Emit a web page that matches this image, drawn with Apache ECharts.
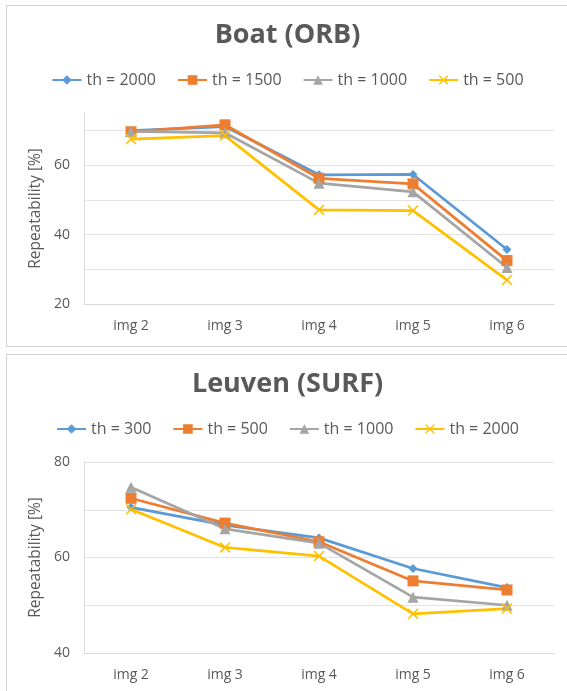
<!DOCTYPE html>
<html>
<head>
<meta charset="utf-8">
<script src="https://cdn.jsdelivr.net/npm/echarts@6/dist/echarts.min.js"></script>
<style>
  body { margin: 0; width: 567px; height: 691px; overflow: hidden; position: relative; background: #fff; }
  .box { position: absolute; left: 6px; width: 561px; height: 340px; border: 1px solid #d4d4d4; background: #fff; }
</style>
</head>
<body>
<div id="boat" class="box" style="top:5px"></div>
<div id="leuven" class="box" style="top:354px"></div>
<script>
var categories = ['img 2', 'img 3', 'img 4', 'img 5', 'img 6']

// Boat (ORB)
var boatNames = ['th = 2000', 'th = 1500', 'th = 1000', 'th = 500']
var boat2000 = [69.9, 71.1, 57.2, 57.3, 35.7]
var boat1500 = [69.6, 71.6, 56.2, 54.6, 32.5]
var boat1000 = [69.7, 69.3, 54.8, 52.3, 30.5]
var boat500 = [67.5, 68.5, 47.1, 46.9, 26.9]

// Leuven (SURF)
var leuvenNames = ['th = 300', 'th = 500', 'th = 1000', 'th = 2000']
var leuven300 = [70.5, 66.8, 64.1, 57.7, 53.7]
var leuven500 = [72.4, 67.2, 63.3, 55.1, 53.2]
var leuven1000 = [74.7, 66.0, 63.0, 51.7, 50.0]
var leuven2000 = [70.1, 62.1, 60.3, 48.2, 49.3]

var colors = ['#5B9BD5', '#ED7D31', '#A5A5A5', '#FFC000']
var crossPath = 'path://M1,0L5,4L9,0L10,1L6,5L10,9L9,10L5,6L1,10L0,9L4,5L0,1Z'
var symbols = ['diamond', 'rect', 'triangle', crossPath]
var symbolSizes = [9, 11, 11, 11]
var textColor = '#595959'
var font = 'Open Sans'

function buildOption(title, names, values, yMin, yMax) {
  var series = values.map(function (data, i) {
    return {
      name: names[i],
      type: 'line',
      data: data,
      symbol: symbols[i],
      symbolSize: symbolSizes[i],
      lineStyle: { color: colors[i], width: 2.75 },
      itemStyle: { color: colors[i] }
    }
  })
  return {
    animation: false,
    title: {
      text: title,
      left: 'center',
      top: 11,
      textStyle: { fontFamily: font, fontWeight: 'bold', fontSize: 27, color: textColor }
    },
    legend: {
      data: names,
      left: 'center',
      top: 61,
      itemWidth: 29,
      itemHeight: 12,
      itemGap: 21,
      textStyle: { fontFamily: font, fontSize: 16, color: textColor }
    },
    grid: { left: 77, right: 14, top: 107, bottom: 42 },
    xAxis: {
      type: 'category',
      data: categories,
      axisLine: { lineStyle: { color: '#d9d9d9', width: 1 } },
      axisTick: { show: false },
      axisLabel: { margin: 15, fontFamily: font, fontSize: 14, color: textColor }
    },
    yAxis: {
      type: 'value',
      min: yMin,
      max: yMax,
      interval: 10,
      name: 'Repeatability [%]',
      nameLocation: 'middle',
      nameGap: 37,
      nameTextStyle: { fontFamily: font, fontSize: 15.5, color: textColor },
      axisLine: { show: true, lineStyle: { color: '#d9d9d9', width: 1 } },
      axisTick: { show: false },
      splitLine: { showMaxLine: yMax % 20 === 0, lineStyle: { color: '#e3e3e3', width: 1 } },
      axisLabel: {
        margin: 14,
        fontFamily: font,
        fontSize: 14,
        color: textColor,
        showMaxLabel: true,
        formatter: function (v) { return v % 20 === 0 ? String(v) : '' }
      }
    },
    series: series
  }
}

var boatChart = echarts.init(document.getElementById('boat'))
boatChart.setOption(buildOption('Boat (ORB)', boatNames, [boat2000, boat1500, boat1000, boat500], 20, 75))

var leuvenChart = echarts.init(document.getElementById('leuven'))
leuvenChart.setOption(buildOption('Leuven (SURF)', leuvenNames, [leuven300, leuven500, leuven1000, leuven2000], 40, 80))
</script>
</body>
</html>
